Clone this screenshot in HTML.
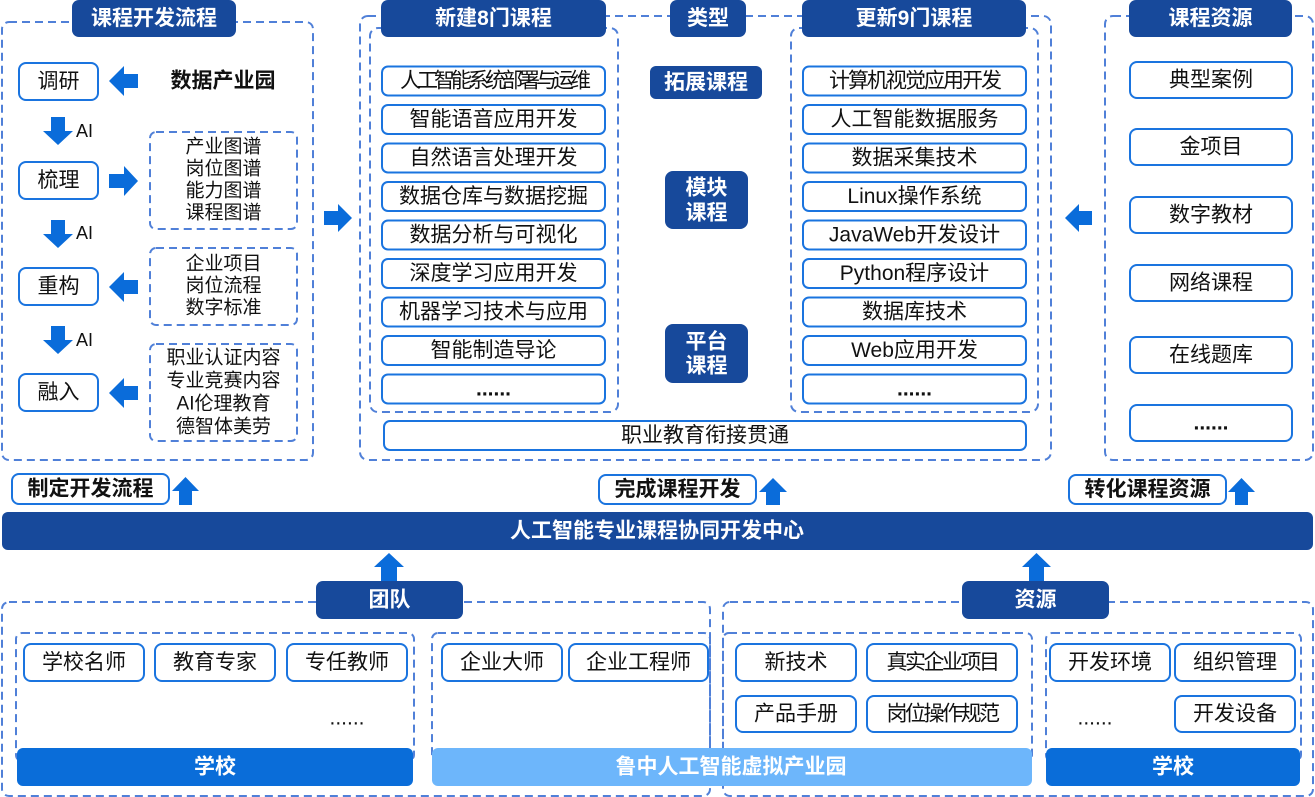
<!DOCTYPE html>
<html><head><meta charset="utf-8"><style>
html,body{margin:0;padding:0;background:#fff;}
svg{display:block;}
text{font-family:"Liberation Sans","Noto Sans CJK SC",sans-serif;}
.hd{fill:#17499B;}
.bx{fill:#fff;stroke:#1A74DF;stroke-width:2;}
.ds{fill:none;stroke:#5080D8;stroke-width:2;stroke-dasharray:8 5;}
.ar{fill:#0A6CDA;}
.t{font-size:21px;fill:#111;text-anchor:middle;dominant-baseline:central;}
.ts{font-size:19px;fill:#111;text-anchor:middle;dominant-baseline:central;}
.w{font-size:21px;fill:#fff;font-weight:bold;text-anchor:middle;dominant-baseline:central;}
.b{font-size:21px;fill:#111;font-weight:bold;text-anchor:middle;dominant-baseline:central;}
.ai{font-size:18px;fill:#111;dominant-baseline:central;}
</style></head><body>
<svg width="1315" height="797" viewBox="0 0 1315 797" xmlns="http://www.w3.org/2000/svg">
<!-- ===== dashed outer boxes ===== -->
<rect class="ds" x="2" y="22" width="311" height="438" rx="7"/>
<rect class="ds" x="360" y="16" width="691" height="444" rx="8"/>
<rect class="ds" x="370" y="28" width="248" height="384" rx="8"/>
<rect class="ds" x="791" y="28" width="247" height="384" rx="8"/>
<rect class="ds" x="1105" y="16" width="208" height="444" rx="8"/>

<!-- ===== left section ===== -->
<rect class="hd" x="72" y="0" width="164" height="37" rx="7"/>
<text class="w" x="154" y="18.5">课程开发流程</text>

<rect class="bx" x="19" y="63" width="79" height="37" rx="7"/>
<text class="t" x="58.5" y="81.5">调研</text>
<rect class="bx" x="19" y="162" width="79" height="37" rx="7"/>
<text class="t" x="58.5" y="180.5">梳理</text>
<rect class="bx" x="19" y="268" width="79" height="37" rx="7"/>
<text class="t" x="58.5" y="286.5">重构</text>
<rect class="bx" x="19" y="374" width="79" height="37" rx="7"/>
<text class="t" x="58.5" y="392.5">融入</text>

<!-- left arrows -->
<path class="ar" d="M109,81 L124,66 L124,74 L138,74 L138,88 L124,88 L124,96 Z"/>
<path class="ar" d="M138,181 L124,166 L124,174 L109,174 L109,188 L124,188 L124,196 Z"/>
<path class="ar" d="M109,287 L124,272 L124,280 L138,280 L138,294 L124,294 L124,302 Z"/>
<path class="ar" d="M109,393 L124,378 L124,386 L138,386 L138,400 L124,400 L124,408 Z"/>
<!-- down arrows -->
<path class="ar" d="M51,117 L65,117 L65,131 L73,131 L58,145 L43,131 L51,131 Z"/>
<path class="ar" d="M51,220 L65,220 L65,234 L73,234 L58,248 L43,234 L51,234 Z"/>
<path class="ar" d="M51,326 L65,326 L65,340 L73,340 L58,354 L43,340 L51,340 Z"/>
<text class="ai" x="76" y="131">AI</text>
<text class="ai" x="76" y="233">AI</text>
<text class="ai" x="76" y="340">AI</text>

<text class="b" x="223" y="81">数据产业园</text>

<rect class="ds" x="150" y="132" width="147" height="97" rx="6"/>
<text class="ts" x="223.5" y="147">产业图谱</text>
<text class="ts" x="223.5" y="169">岗位图谱</text>
<text class="ts" x="223.5" y="191">能力图谱</text>
<text class="ts" x="223.5" y="213">课程图谱</text>

<rect class="ds" x="150" y="248" width="147" height="77" rx="6"/>
<text class="ts" x="223.5" y="264">企业项目</text>
<text class="ts" x="223.5" y="286">岗位流程</text>
<text class="ts" x="223.5" y="308">数字标准</text>

<rect class="ds" x="150" y="344" width="147" height="97" rx="6"/>
<text class="ts" x="223.5" y="358">职业认证内容</text>
<text class="ts" x="223.5" y="381">专业竞赛内容</text>
<text class="ts" x="223.5" y="404">AI伦理教育</text>
<text class="ts" x="223.5" y="427">德智体美劳</text>

<!-- arrow into middle -->
<path class="ar" d="M324,211 L338,211 L338,204 L352,218 L338,232 L338,225 L324,225 Z"/>

<!-- ===== middle section ===== -->
<rect class="hd" x="381" y="0" width="225" height="37" rx="7"/>
<text class="w" x="493.5" y="18.5">新建8门课程</text>
<rect class="hd" x="670" y="0" width="76" height="37" rx="7"/>
<text class="w" x="708" y="18.5">类型</text>
<rect class="hd" x="802" y="0" width="224" height="37" rx="7"/>
<text class="w" x="914" y="18.5">更新9门课程</text>

<rect class="hd" x="650" y="66" width="112" height="33" rx="6"/>
<text class="w" x="706" y="82.5">拓展课程</text>
<rect class="hd" x="665" y="171" width="83" height="58" rx="8"/>
<text class="w" x="706.5" y="188">模块</text>
<text class="w" x="706.5" y="213">课程</text>
<rect class="hd" x="665" y="324" width="83" height="59" rx="8"/>
<text class="w" x="706.5" y="342">平台</text>
<text class="w" x="706.5" y="366">课程</text>

<!-- left course boxes -->
<g>
<rect class="bx" x="382" y="66.5" width="223" height="29" rx="6"/>
<text class="t" x="493.5" y="81" style="letter-spacing:-4px">人工智能系统部署与运维</text>
<rect class="bx" x="382" y="105" width="223" height="29" rx="6"/>
<text class="t" x="493.5" y="119.5">智能语音应用开发</text>
<rect class="bx" x="382" y="143.5" width="223" height="29" rx="6"/>
<text class="t" x="493.5" y="158">自然语言处理开发</text>
<rect class="bx" x="382" y="182" width="223" height="29" rx="6"/>
<text class="t" x="493.5" y="196.5">数据仓库与数据挖掘</text>
<rect class="bx" x="382" y="220.5" width="223" height="29" rx="6"/>
<text class="t" x="493.5" y="235">数据分析与可视化</text>
<rect class="bx" x="382" y="259" width="223" height="29" rx="6"/>
<text class="t" x="493.5" y="273.5">深度学习应用开发</text>
<rect class="bx" x="382" y="297.5" width="223" height="29" rx="6"/>
<text class="t" x="493.5" y="312">机器学习技术与应用</text>
<rect class="bx" x="382" y="336" width="223" height="29" rx="6"/>
<text class="t" x="493.5" y="350.5">智能制造导论</text>
<rect class="bx" x="382" y="374.5" width="223" height="29" rx="6"/>
<text class="b" x="493.5" y="389">......</text>
</g>
<!-- right course boxes -->
<g>
<rect class="bx" x="803" y="66.5" width="223" height="29" rx="6"/>
<text class="t" x="914.5" y="81" style="letter-spacing:-2px">计算机视觉应用开发</text>
<rect class="bx" x="803" y="105" width="223" height="29" rx="6"/>
<text class="t" x="914.5" y="119.5">人工智能数据服务</text>
<rect class="bx" x="803" y="143.5" width="223" height="29" rx="6"/>
<text class="t" x="914.5" y="158">数据采集技术</text>
<rect class="bx" x="803" y="182" width="223" height="29" rx="6"/>
<text class="t" x="914.5" y="196.5">Linux操作系统</text>
<rect class="bx" x="803" y="220.5" width="223" height="29" rx="6"/>
<text class="t" x="914.5" y="235">JavaWeb开发设计</text>
<rect class="bx" x="803" y="259" width="223" height="29" rx="6"/>
<text class="t" x="914.5" y="273.5">Python程序设计</text>
<rect class="bx" x="803" y="297.5" width="223" height="29" rx="6"/>
<text class="t" x="914.5" y="312">数据库技术</text>
<rect class="bx" x="803" y="336" width="223" height="29" rx="6"/>
<text class="t" x="914.5" y="350.5">Web应用开发</text>
<rect class="bx" x="803" y="374.5" width="223" height="29" rx="6"/>
<text class="b" x="914.5" y="389">......</text>
</g>

<rect class="bx" x="384" y="421" width="642" height="29" rx="6"/>
<text class="t" x="705" y="435.5">职业教育衔接贯通</text>

<!-- arrow from resources -->
<path class="ar" d="M1065,218 L1079,204 L1079,211 L1092,211 L1092,225 L1079,225 L1079,232 Z"/>

<!-- ===== right section ===== -->
<rect class="hd" x="1129" y="0" width="163" height="37" rx="7"/>
<text class="w" x="1210.5" y="18.5">课程资源</text>
<rect class="bx" x="1130" y="62" width="162" height="36" rx="7"/>
<text class="t" x="1211" y="80">典型案例</text>
<rect class="bx" x="1130" y="129" width="162" height="36" rx="7"/>
<text class="t" x="1211" y="147">金项目</text>
<rect class="bx" x="1130" y="197" width="162" height="36" rx="7"/>
<text class="t" x="1211" y="215">数字教材</text>
<rect class="bx" x="1130" y="265" width="162" height="36" rx="7"/>
<text class="t" x="1211" y="283">网络课程</text>
<rect class="bx" x="1130" y="337" width="162" height="36" rx="7"/>
<text class="t" x="1211" y="355">在线题库</text>
<rect class="bx" x="1130" y="405" width="162" height="36" rx="7"/>
<text class="b" x="1211" y="423">......</text>

<!-- ===== labels above bar ===== -->
<rect class="bx" x="12" y="474" width="157" height="30" rx="7"/>
<text class="b" x="90.5" y="489">制定开发流程</text>
<path class="ar" d="M185.5,477 L199,491 L192,491 L192,505 L179,505 L179,491 L172,491 Z"/>

<rect class="bx" x="599" y="475" width="157" height="29" rx="7"/>
<text class="b" x="677.5" y="489.5">完成课程开发</text>
<path class="ar" d="M773,478 L787,492 L780,492 L780,505 L766,505 L766,492 L759,492 Z"/>

<rect class="bx" x="1069" y="475" width="157" height="29" rx="7"/>
<text class="b" x="1147.5" y="489.5">转化课程资源</text>
<path class="ar" d="M1241.5,478 L1255,492 L1248,492 L1248,505 L1235,505 L1235,492 L1228,492 Z"/>

<!-- center bar -->
<rect class="hd" x="2" y="512" width="1311" height="38" rx="6"/>
<text class="w" x="657" y="531">人工智能专业课程协同开发中心</text>

<!-- ===== bottom ===== -->
<rect class="ds" x="2" y="602" width="708" height="194" rx="7"/>
<rect class="ds" x="723" y="602" width="590" height="194" rx="7"/>
<rect class="ds" x="16" y="633" width="398" height="128" rx="6"/>
<rect class="ds" x="432" y="633" width="278" height="128" rx="6"/>
<rect class="ds" x="723" y="633" width="309" height="128" rx="6"/>
<rect class="ds" x="1046" y="633" width="255" height="128" rx="6"/>

<path class="ar" d="M389,553 L404,567 L397,567 L397,582 L381,582 L381,567 L374,567 Z"/>
<path class="ar" d="M1036.5,553 L1051,567 L1044,567 L1044,582 L1029,582 L1029,567 L1022,567 Z"/>

<rect class="hd" x="316" y="581" width="147" height="38" rx="7"/>
<text class="w" x="389.5" y="600">团队</text>
<rect class="hd" x="962" y="581" width="147" height="38" rx="7"/>
<text class="w" x="1035.5" y="600">资源</text>

<rect class="bx" x="24" y="644" width="120" height="37" rx="7"/>
<text class="t" x="84" y="662.5">学校名师</text>
<rect class="bx" x="155" y="644" width="120" height="37" rx="7"/>
<text class="t" x="215" y="662.5">教育专家</text>
<rect class="bx" x="287" y="644" width="120" height="37" rx="7"/>
<text class="t" x="347" y="662.5">专任教师</text>
<text class="t" x="347" y="718">......</text>

<rect class="bx" x="442" y="644" width="120" height="37" rx="7"/>
<text class="t" x="502" y="662.5">企业大师</text>
<rect class="bx" x="569" y="644" width="139" height="37" rx="7"/>
<text class="t" x="638.5" y="662.5">企业工程师</text>

<rect class="bx" x="736" y="644" width="120" height="37" rx="7"/>
<text class="t" x="796" y="662.5">新技术</text>
<rect class="bx" x="867" y="644" width="150" height="37" rx="7"/>
<text class="t" x="942" y="662.5" style="letter-spacing:-2.5px">真实企业项目</text>
<rect class="bx" x="736" y="696" width="120" height="36" rx="7"/>
<text class="t" x="796" y="714">产品手册</text>
<rect class="bx" x="867" y="696" width="150" height="36" rx="7"/>
<text class="t" x="942" y="714" style="letter-spacing:-2.5px">岗位操作规范</text>

<rect class="bx" x="1050" y="644" width="120" height="37" rx="7"/>
<text class="t" x="1110" y="662.5">开发环境</text>
<rect class="bx" x="1175" y="644" width="120" height="37" rx="7"/>
<text class="t" x="1235" y="662.5">组织管理</text>
<rect class="bx" x="1175" y="696" width="120" height="36" rx="7"/>
<text class="t" x="1235" y="714">开发设备</text>
<text class="t" x="1095" y="718">......</text>

<rect x="17" y="748" width="396" height="38" rx="6" fill="#0A6DD9"/>
<text class="w" x="215" y="767">学校</text>
<rect x="432" y="748" width="600" height="38" rx="6" fill="#6DB6FB"/>
<text class="w" x="731" y="767">鲁中人工智能虚拟产业园</text>
<rect x="1046" y="748" width="254" height="38" rx="6" fill="#0A6DD9"/>
<text class="w" x="1173" y="767">学校</text>
</svg>
</body></html>
